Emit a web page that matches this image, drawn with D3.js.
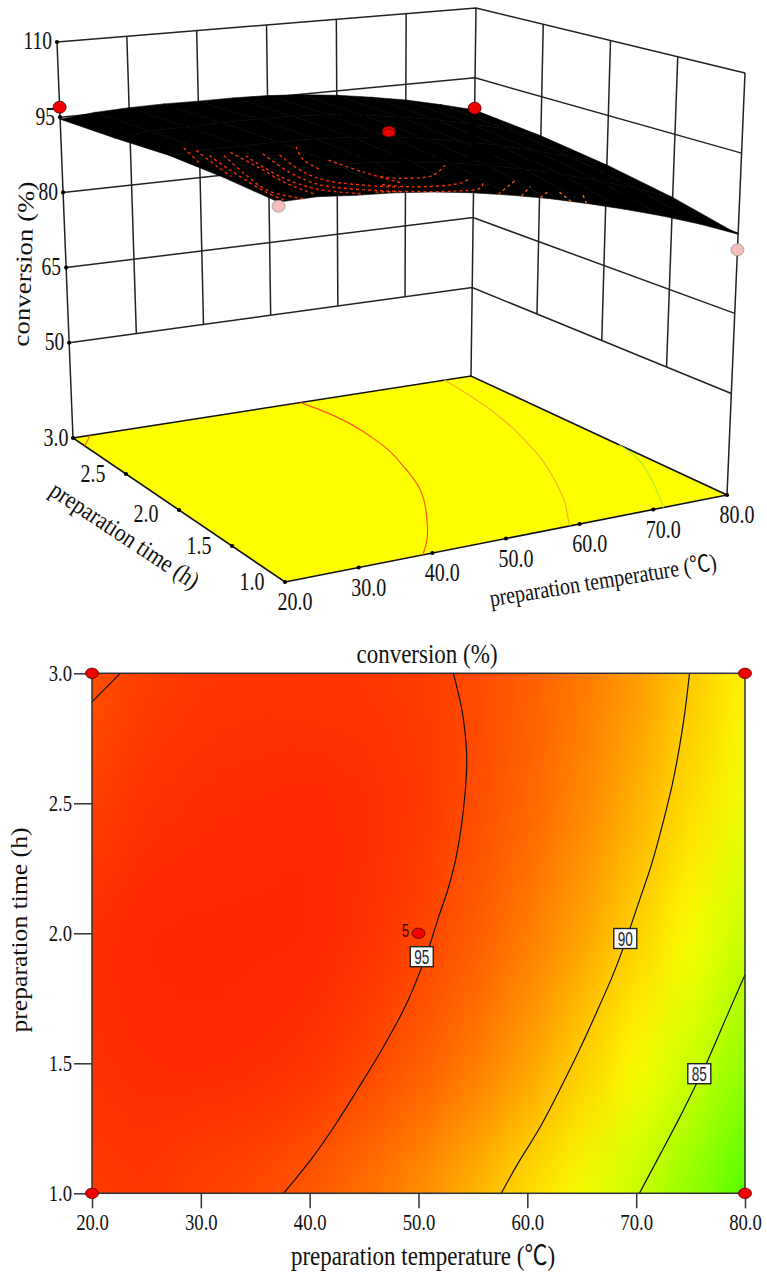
<!DOCTYPE html>
<html>
<head>
<meta charset="utf-8">
<title>conversion (%)</title>
<script src="https://cdn.jsdelivr.net/npm/d3@7"></script>
<style>
  html, body { margin: 0; padding: 0; background: #fff; }
  svg { display: block; }
  text { font-family: "Liberation Serif", "Noto Sans CJK SC", serif; fill: #111; }
</style>
</head>
<body>
<div id="chart"></div>
<script>
// grid of the response
var temps = [20, 25, 30, 35, 40, 45, 50, 55, 60, 65, 70, 75, 80];
var times = [1.0, 1.5, 2.0, 2.5, 3.0];
var conv10 = [95.4, 95.6, 95.1, 94.8, 94.2, 93.3, 92.1, 90.7, 89.0, 87.1, 85.0, 82.6, 79.8];
var conv15 = [95.9, 96.1, 96.2, 96.1, 95.8, 95.1, 94.2, 93.0, 91.5, 89.7, 87.7, 85.4, 82.8];
var conv20 = [96.0, 96.3, 96.4, 96.4, 96.3, 95.9, 95.2, 94.2, 92.9, 91.4, 89.6, 87.5, 85.1];
var conv25 = [95.2, 95.8, 96.0, 96.1, 96.2, 96.0, 95.6, 94.8, 93.8, 92.5, 90.9, 89.1, 86.9];
var conv30 = [94.6, 95.3, 95.6, 95.7, 95.6, 95.6, 95.4, 94.9, 94.1, 93.0, 91.7, 90.0, 88.1];
var convGrid = [conv10, conv15, conv20, conv25, conv30];

var tempTicks = [20, 30, 40, 50, 60, 70, 80];
var timeTicks = [1.0, 1.5, 2.0, 2.5, 3.0];
var convTicks = [50, 65, 80, 95, 110];

// contour lines as [temperature, time]
var contour95 = [[53.2, 3], [54, 2.87], [54.3, 2.77], [54.5, 2.665], [54.3, 2.54], [54, 2.42], [53.4, 2.27], [52.6, 2.15], [51.8, 2.06], [51.1, 1.96], [50.3, 1.87], [49.2, 1.75], [47.7, 1.63], [46.2, 1.52], [44.4, 1.4], [42.5, 1.27], [40.2, 1.13], [37.6, 1]];
var contour95b = [[20, 2.89], [22.6, 3]];
var contour90 = [[74.9, 3], [74.5, 2.85], [74, 2.72], [73.4, 2.58], [72.5, 2.43], [71.5, 2.27], [70.4, 2.14], [69.6, 2.04], [68.8, 1.94], [67.8, 1.83], [66.4, 1.7], [64.8, 1.55], [63, 1.4], [61.2, 1.25], [59.3, 1.13], [57.6, 1]];
var contour85 = [[80, 1.84], [78.3, 1.68], [76.5, 1.5], [75.4, 1.41], [74, 1.29], [72.4, 1.165], [70.3, 1]];
var contourLines = [
  { level: 95, points: contour95 },
  { level: 95, points: contour95b },
  { level: 90, points: contour90 },
  { level: 85, points: contour85 }
];
// where the contour labels sit
var contourLabels = [[95, 50.3, 1.91], [90, 69, 1.98], [85, 75.8, 1.46]];

// design points: temperature, time, conversion
var designPoints = [[20, 3, 97], [80, 3, 88.5], [20, 1, 94.7], [80, 1, 76.9]];
var centerRuns = [[50, 2, 96.5], [50, 2, 96]];

// dotted arcs that show through the black mesh
var meshArcs = [
  [[23.5, 2.1], [21, 1.78]],
  [[24, 2.02], [22, 1.69], [21, 1.5]],
  [[24, 1.9], [22.5, 1.62], [21, 1.2], [21, 1.0]],
  [[25.5, 1.87], [23, 1.52], [21.5, 1.2], [23.2, 1.0]],
  [[27, 1.91], [26, 1.6], [25, 1.25], [25.5, 1.05]],
  [[27.7, 1.82], [26, 1.41], [27, 1.14], [31, 1.02]],
  [[30, 1.82], [28, 1.45], [28.5, 1.2], [36, 1.02]],
  [[31.5, 1.77], [29.5, 1.42], [30.6, 1.24], [37, 1.09]],
  [[35.6, 1.89], [32.8, 1.65], [32, 1.45]],
  [[35.3, 1.59], [36.3, 1.36], [38.3, 1.16]],
  [[37.3, 1.27], [39.4, 1.23], [44.3, 1.28], [48.8, 1.46]],
  [[35.5, 1.14], [38.6, 1.09], [46, 1.16], [49, 1.26]],
  [[33, 1.03], [36, 1.02], [42.8, 1.02], [47.8, 1.1], [50.2, 1.23]],
  [[48.5, 1.0], [55, 1.27]],
  [[51.5, 1.0], [55.7, 1.19]],
  [[54, 1.0], [56.8, 1.12]],
  [[58, 1.0], [59, 1.17]],
  [[60, 1.0], [62, 1.15]]
];

var WIDTH = 767, HEIGHT = 1273;

var svg = d3.select('#chart').append('svg')
  .attr('width', WIDTH)
  .attr('height', HEIGHT);

var heat = d3.scaleLinear()
  .domain([79.8, 87.6, 90, 92, 94, 96.3])
  .range(['rgb(80,255,0)', 'rgb(255,255,0)', 'rgb(255,200,0)', 'rgb(255,145,0)', 'rgb(255,95,0)', 'rgb(255,38,0)'])
  .clamp(true);

var arcColor = d3.scaleLinear()
  .domain([86, 96])
  .range(['#e8900a', '#f03000'])
  .clamp(true);

// text is a bit taller than wide in the original
function label(g, str, x, y, size, opts) {
  opts = opts || {};
  return g.append('text')
    .attr('transform', 'translate(' + x + ',' + y + ') rotate(' + (opts.angle || 0) + ') scale(1,' + (opts.stretch || 1.2) + ')')
    .attr('text-anchor', opts.anchor || 'middle')
    .attr('dominant-baseline', 'central')
    .style('font-size', size + 'px')
    .text(str);
}

function convAt(T, t) {
  var i = Math.min(d3.bisectRight(temps, T) - 1, temps.length - 2);
  var j = Math.min(d3.bisectRight(times, t) - 1, times.length - 2);
  var a = (T - temps[i]) / (temps[i + 1] - temps[i]);
  var b = (t - times[j]) / (times[j + 1] - times[j]);
  return (convGrid[j][i] * (1 - a) + convGrid[j][i + 1] * a) * (1 - b) +
         (convGrid[j + 1][i] * (1 - a) + convGrid[j + 1][i + 1] * a) * b;
}

//
// 3D surface plot
var u3 = d3.scaleLinear().domain([20, 80]).range([0, 1]);
var v3 = d3.scaleLinear().domain([1, 3]).range([0, 1]);
var w3 = d3.scaleLinear().domain([31, 110]).range([0, 1]);

// box corners on screen: [t=1,T=20], [t=1,T=80], [t=3,T=20], [t=3,T=80]
var floorBox = [[285, 582], [727, 495], [73, 438], [471, 376]];
var topBox = [[277, 116], [745, 73], [57, 42], [476, 8]];

function lerp(a, b, f) { return a + (b - a) * f; }

function project(T, t, z) {
  var u = u3(T), v = v3(t), w = w3(z);
  return [0, 1].map(function(k) {
    var lo = lerp(lerp(floorBox[0][k], floorBox[1][k], u), lerp(floorBox[2][k], floorBox[3][k], u), v);
    var hi = lerp(lerp(topBox[0][k], topBox[1][k], u), lerp(topBox[2][k], topBox[3][k], u), v);
    return lerp(lo, hi, w);
  });
}

var line3 = d3.line();
var smooth3 = d3.line().curve(d3.curveCatmullRom);
var basis3 = d3.line().curve(d3.curveBasis);
var g3 = svg.append('g');
var Z_FLOOR = 31, Z_TOP = 110, Z_GRID = 50;

// wall grid
var walls = g3.append('g').attr('fill', 'none').attr('stroke', '#222').attr('stroke-width', 1.5);
convTicks.forEach(function(z) {
  walls.append('path').attr('d', line3([project(20, 3, z), project(80, 3, z), project(80, 1, z)]));
});
tempTicks.slice(1, -1).forEach(function(T) {
  walls.append('path').attr('d', line3([project(T, 3, Z_GRID), project(T, 3, Z_TOP)]));
});
timeTicks.slice(1, -1).forEach(function(t) {
  walls.append('path').attr('d', line3([project(80, t, Z_GRID), project(80, t, Z_TOP)]));
});
[[20, 3], [80, 3], [80, 1]].forEach(function(c) {
  walls.append('path').attr('d', line3([project(c[0], c[1], Z_FLOOR), project(c[0], c[1], Z_TOP)]));
});

// floor with the projected contours
g3.append('path')
  .attr('d', line3([project(20, 1, Z_FLOOR), project(80, 1, Z_FLOOR), project(80, 3, Z_FLOOR), project(20, 3, Z_FLOOR)]) + 'Z')
  .attr('fill', '#ffff00')
  .attr('stroke', '#111')
  .attr('stroke-width', 1.6);

// on the floor the lines sit about a degree to the right of the flat plot
function floorT(T) {
  return T > 30 ? Math.min(T + 1.1, 80) : T;
}

g3.selectAll('.floor-contour')
  .data(contourLines)
  .enter().append('path')
  .attr('class', 'floor-contour')
  .attr('fill', 'none')
  .attr('stroke', function(d) {
    return d.level === 95 ? '#fb5a10' : d.level === 90 ? '#f7b030' : '#b4ee30';
  })
  .attr('stroke-width', 1.2)
  .attr('d', function(d) {
    return basis3(d.points.map(function(p) { return project(floorT(p[0]), p[1], Z_FLOOR); }));
  });

// black mesh, one quad per grid cell
var cells = [];
times.slice(0, -1).forEach(function(t, j) {
  temps.slice(0, -1).forEach(function(T, i) {
    cells.push([
      project(temps[i], times[j], convGrid[j][i]),
      project(temps[i + 1], times[j], convGrid[j][i + 1]),
      project(temps[i + 1], times[j + 1], convGrid[j + 1][i + 1]),
      project(temps[i], times[j + 1], convGrid[j + 1][i])
    ]);
  });
});
g3.selectAll('.mesh')
  .data(cells)
  .enter().append('path')
  .attr('class', 'mesh')
  .attr('d', function(d) { return line3(d) + 'Z'; })
  .attr('fill', '#000')
  .attr('stroke', '#000')
  .attr('stroke-width', 0.6);

g3.selectAll('.mesh-arc')
  .data(meshArcs)
  .enter().append('path')
  .attr('class', 'mesh-arc')
  .attr('fill', 'none')
  .attr('stroke-width', 1.4)
  .attr('stroke-dasharray', '3 3')
  .attr('stroke', function(d) { return arcColor(convAt(d[0][0], d[0][1])); })
  .attr('d', function(d) {
    return smooth3(d.map(function(p) { return project(p[0], p[1], convAt(p[0], p[1])); }));
  });

// design points, pink when they sit under the surface
g3.selectAll('.run')
  .data(designPoints.concat(centerRuns))
  .enter().append('ellipse')
  .attr('class', 'run')
  .attr('cx', function(d) { return project(d[0], d[1], d[2])[0]; })
  .attr('cy', function(d) { return project(d[0], d[1], d[2])[1]; })
  .attr('rx', 6.5)
  .attr('ry', function(d) { return d[0] === 50 ? 4 : 6; })
  .attr('fill', function(d) { return d[2] < convAt(d[0], d[1]) ? '#f6bcbc' : '#f00000'; })
  .attr('stroke', function(d) { return d[2] < convAt(d[0], d[1]) ? '#999' : '#400'; })
  .attr('stroke-width', 0.8);

// ticks on the box edges
var tick3 = tempTicks.map(function(T) { return project(T, 1, Z_FLOOR); })
  .concat(timeTicks.slice(1).map(function(t) { return project(20, t, Z_FLOOR); }))
  .concat(convTicks.map(function(z) { return project(20, 3, z); }));
g3.selectAll('.tick3')
  .data(tick3)
  .enter().append('circle')
  .attr('class', 'tick3')
  .attr('cx', function(d) { return d[0]; })
  .attr('cy', function(d) { return d[1]; })
  .attr('r', 2.1)
  .attr('fill', '#000');

tempTicks.forEach(function(T) {
  var p = project(T, 1, Z_FLOOR);
  label(g3, d3.format('.1f')(T), p[0] + 10, p[1] + 20, 20, { stretch: 1.25 });
});
timeTicks.forEach(function(t) {
  var p = project(20, t, Z_FLOOR);
  label(g3, d3.format('.1f')(t), p[0] - (t === 3 ? 17 : 33), p[1] + (t === 2 ? 4 : 0), 20, { stretch: 1.25 });
});
convTicks.forEach(function(z) {
  var p = project(20, 3, z);
  label(g3, z, p[0] - 5, p[1] - 1, 19.5, { anchor: 'end', stretch: 1.3 });
});

label(g3, 'conversion (%)', 24, 264, 23, { angle: -88, stretch: 1 })
  .attr('textLength', 165)
  .attr('lengthAdjust', 'spacingAndGlyphs');
label(g3, 'preparation time (h)', 125, 535, 21.7, { angle: 33.5, stretch: 1.15 });
label(g3, 'preparation temperature (℃)', 603, 580, 20, { angle: -9.2, stretch: 1.2 });

//
// contour plot
var plot = { left: 92, right: 745, top: 673.3, bottom: 1193.3 };
var x = d3.scaleLinear().domain([20, 80]).range([plot.left, plot.right]);
var y = d3.scaleLinear().domain([1, 3]).range([plot.bottom, plot.top]);

var defs = svg.append('defs');
defs.append('clipPath').attr('id', 'plot-clip').append('rect')
  .attr('x', plot.left).attr('y', plot.top)
  .attr('width', plot.right - plot.left).attr('height', plot.bottom - plot.top);
var blur = defs.append('filter').attr('id', 'soften')
  .attr('filterUnits', 'userSpaceOnUse')
  .attr('x', 0).attr('y', 400).attr('width', WIDTH).attr('height', HEIGHT - 400)
  .attr('color-interpolation-filters', 'sRGB');
blur.append('feGaussianBlur').attr('stdDeviation', '21 50');

var heatCells = [];
convGrid.forEach(function(row, j) {
  row.forEach(function(v, i) {
    heatCells.push({ T: temps[i], t: times[j], value: v });
  });
});

// cells on the rim run past the plot so the blur does not fade at the edge
var OVERRUN = 300;
var heatClip = svg.append('g').attr('clip-path', 'url(#plot-clip)');
heatClip.append('g').attr('filter', 'url(#soften)')
  .selectAll('rect')
  .data(heatCells)
  .enter().append('rect')
  .attr('x', function(d) { return x(d.T - 2.5) - (d.T === 20 ? OVERRUN : 0); })
  .attr('width', function(d) { return x(d.T + 2.5) - x(d.T - 2.5) + (d.T === 20 || d.T === 80 ? OVERRUN : 0) + 0.5; })
  .attr('y', function(d) { return y(d.t + 0.25) - (d.t === 3 ? OVERRUN : 0); })
  .attr('height', function(d) { return y(d.t - 0.25) - y(d.t + 0.25) + (d.t === 1 || d.t === 3 ? OVERRUN : 0) + 0.5; })
  .attr('fill', function(d) { return heat(d.value); });

var contourPath = d3.line()
  .x(function(d) { return x(d[0]); })
  .y(function(d) { return y(d[1]); })
  .curve(d3.curveBasis);

svg.append('g').selectAll('path')
  .data(contourLines)
  .enter().append('path')
  .attr('d', function(d) { return contourPath(d.points); })
  .attr('fill', 'none')
  .attr('stroke', '#111')
  .attr('stroke-width', 1.2);

svg.append('rect')
  .attr('x', plot.left).attr('y', plot.top)
  .attr('width', plot.right - plot.left).attr('height', plot.bottom - plot.top)
  .attr('fill', 'none')
  .attr('stroke', '#2c3038')
  .attr('stroke-width', 1.5);

// axes
var xAxis = svg.append('g')
  .attr('transform', 'translate(0,' + plot.bottom + ')')
  .call(d3.axisBottom(x).tickValues(tempTicks).tickFormat(d3.format('.1f')).tickSize(15).tickSizeOuter(0));
var yAxis = svg.append('g')
  .attr('transform', 'translate(' + plot.left + ',0)')
  .call(d3.axisLeft(y).tickValues(timeTicks).tickFormat(d3.format('.1f')).tickSize(18).tickSizeOuter(0));

[xAxis, yAxis].forEach(function(a) {
  a.select('.domain').remove();
  a.selectAll('line').attr('stroke', '#333').attr('stroke-width', 1.5);
  a.selectAll('text').style('font-size', '18.7px').style('font-family', '"Liberation Serif", serif').attr('fill', '#111');
});
xAxis.selectAll('text')
  .attr('y', 17)
  .attr('transform', 'scale(1,1.2)');
yAxis.selectAll('text')
  .attr('x', -20)
  .attr('transform', 'scale(1,1.2)');

label(svg, 'conversion (%)', 427, 653, 23);
label(svg, 'preparation temperature (℃)', 423, 1255, 23);
label(svg, 'preparation time (h)', 19, 930, 24, { angle: -90, stretch: 1 })
  .attr('textLength', 205)
  .attr('lengthAdjust', 'spacingAndGlyphs');

// contour labels
contourLabels.forEach(function(c) {
  var g = svg.append('g').attr('transform', 'translate(' + x(c[1]) + ',' + y(c[2]) + ')');
  g.append('rect')
    .attr('x', -11.5).attr('y', -10)
    .attr('width', 23).attr('height', 20)
    .attr('fill', '#fff')
    .attr('stroke', '#222')
    .attr('stroke-width', 1.4);
  g.append('text')
    .attr('transform', 'scale(0.8,1.2)')
    .attr('text-anchor', 'middle')
    .attr('dominant-baseline', 'central')
    .style('font-family', '"Liberation Sans", sans-serif')
    .style('font-size', '17px')
    .style('fill', '#223')
    .text(c[0]);
});

// design points on the contour plot
var corners = [[20, 3], [80, 3], [20, 1], [80, 1], [50, 2]];
svg.append('g').selectAll('ellipse')
  .data(corners)
  .enter().append('ellipse')
  .attr('cx', function(d) { return x(d[0]); })
  .attr('cy', function(d) { return y(d[1]); })
  .attr('rx', 6.5)
  .attr('ry', 5.2)
  .attr('fill', '#f00000')
  .attr('stroke', '#500')
  .attr('stroke-width', 0.8);

svg.append('text')
  .attr('transform', 'translate(' + (x(50) - 13) + ',' + (y(2) - 3) + ') scale(0.75,1.1)')
  .attr('text-anchor', 'middle')
  .attr('dominant-baseline', 'central')
  .style('font-family', '"Liberation Sans", sans-serif')
  .style('font-size', '17px')
  .style('fill', '#400')
  .text(centerRuns.length + 3);
</script>
</body>
</html>
